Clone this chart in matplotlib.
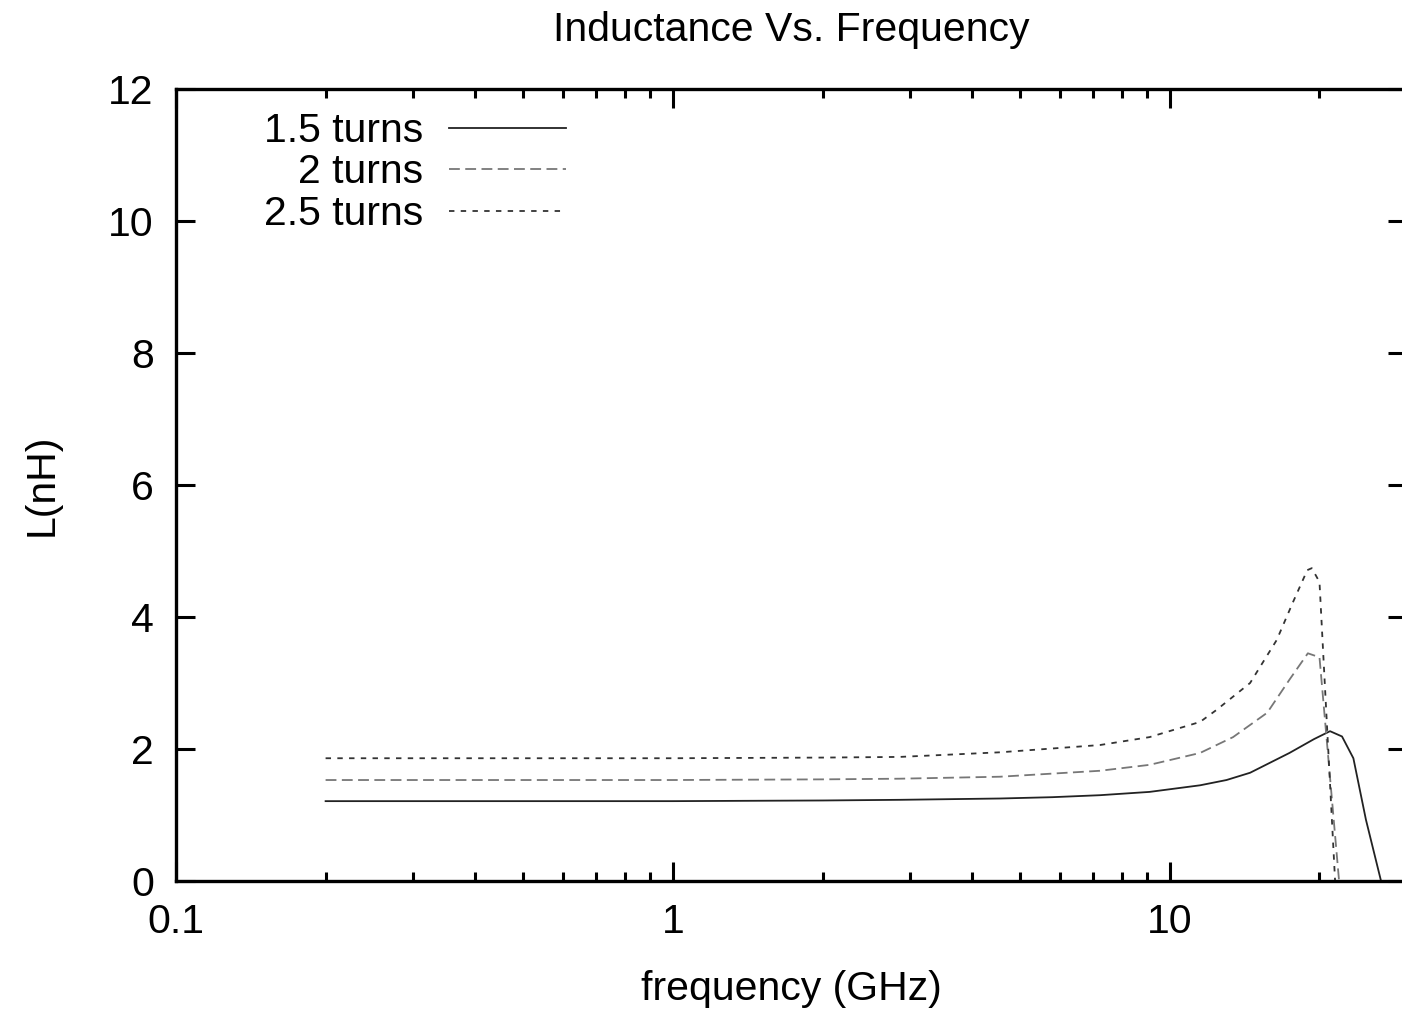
import numpy as np
import matplotlib
matplotlib.use('Agg')
import matplotlib.pyplot as plt
from matplotlib.ticker import LogLocator, FixedLocator, NullLocator

# Данные (частота в ГГц, индуктивность в нГн)
freq_15 = [0.2, 1, 2, 2.86, 4.55, 5.8, 7.23, 9.1, 11.5, 13, 14.5, 17.4, 19.5, 21, 22.2, 23.4, 24.8, 26.6]
L_15 = [1.21, 1.21, 1.22, 1.23, 1.25, 1.27, 1.30, 1.35, 1.45, 1.53, 1.64, 1.94, 2.15, 2.27, 2.19, 1.86, 0.93, 0.0]

freq_20 = [0.2, 1, 2, 2.86, 4.55, 7.23, 9.1, 11.5, 13.4, 15.7, 17.4, 18.95, 20.0, 21.9]
L_20 = [1.53, 1.53, 1.54, 1.55, 1.58, 1.67, 1.76, 1.94, 2.18, 2.55, 3.05, 3.45, 3.39, 0.0]

freq_25 = [0.2, 1, 2, 2.86, 4.55, 7.23, 9.1, 11.5, 12.4, 14.5, 16.4, 17.7, 18.9, 19.3, 20.0, 21.5]
L_25 = [1.86, 1.86, 1.87, 1.88, 1.95, 2.06, 2.18, 2.41, 2.59, 3.00, 3.65, 4.23, 4.71, 4.74, 4.53, 0.0]

labels = ['1.5 turns', '2 turns', '2.5 turns']
y_ticks = [0, 2, 4, 6, 8, 10, 12]
x_ticks = [0.1, 1, 10]
x_ticklabels = ['0.1', '1', '10']

plt.rcParams['font.family'] = ['Liberation Sans', 'DejaVu Sans']
FS = 29.5

fig = plt.figure(figsize=(14.02, 10.10), dpi=100)
ax = fig.add_axes([176 / 1402, 1 - 881 / 1010, 1231 / 1402, 792 / 1010])

ax.plot(freq_15, L_15, color='#222222', lw=1.3, ls='-', label=labels[0])
ax.plot(freq_20, L_20, color='#777777', lw=1.3, ls=(0, (6, 3)), label=labels[1])
ax.plot(freq_25, L_25, color='#333333', lw=1.3, ls=(0, (3, 3.5)), label=labels[2])

ax.set_xscale('log')
ax.set_xlim(0.1, 30)
ax.set_ylim(0, 12)

ax.xaxis.set_major_locator(FixedLocator(x_ticks))
ax.set_xticklabels(x_ticklabels)
ax.xaxis.set_minor_locator(LogLocator(base=10, subs=np.arange(2, 10)))
ax.xaxis.set_minor_formatter(plt.NullFormatter())
ax.set_yticks(y_ticks)
ax.set_yticklabels([str(v) for v in y_ticks])
ax.yaxis.set_minor_locator(NullLocator())

ax.tick_params(which='both', direction='in', top=True, right=True, width=2.2, labelsize=FS)
ax.tick_params(which='major', length=13.5)
ax.tick_params(which='minor', length=6.5)
ax.tick_params(axis='x', which='major', pad=16)
ax.tick_params(axis='y', which='major', pad=16)
for sp in ax.spines.values():
    sp.set_linewidth(2.4)

ax.set_xlabel('frequency (GHz)', fontsize=FS, labelpad=21)
ax.set_ylabel('L(nH)', fontsize=FS, labelpad=34)
fig.text(791 / 1402, 1 - 30 / 1010, 'Inductance Vs. Frequency', fontsize=FS,
         ha='center', va='center')

leg = ax.legend(loc='upper right', bbox_to_anchor=(0.3436, 1.0125), frameon=False,
                markerfirst=False, fontsize=FS, handlelength=2.85,
                handletextpad=0.63, labelspacing=0.085, borderpad=0.3)

fig.savefig('out.png', dpi=100)
